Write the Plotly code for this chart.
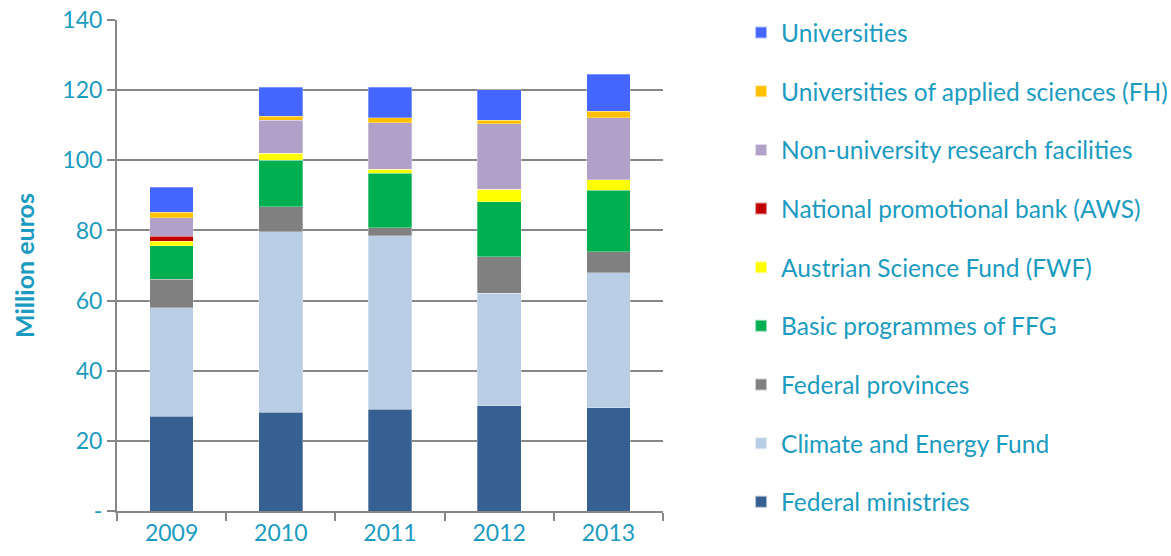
import plotly.graph_objects as go

years = ["2009", "2010", "2011", "2012", "2013"]

federal_ministries = [27.0, 28.2, 29.0, 30.0, 29.5]
climate_energy_fund = [31.0, 51.5, 49.5, 32.1, 38.4]
federal_provinces = [8.1, 7.1, 2.3, 10.4, 6.1]
basic_programmes_ffg = [9.6, 13.2, 15.5, 15.7, 17.5]
austrian_science_fund = [1.2, 2.0, 1.2, 3.6, 2.9]
national_promotional_bank = [1.5, 0.0, 0.0, 0.0, 0.0]
non_university_research = [5.2, 9.5, 13.2, 18.6, 17.7]
universities_applied = [1.6, 1.1, 1.5, 1.0, 1.9]
universities = [7.1, 8.3, 8.6, 8.8, 10.6]

series = [
    ("Federal ministries", federal_ministries, "#376092"),
    ("Climate and Energy Fund", climate_energy_fund, "#B9CDE5"),
    ("Federal provinces", federal_provinces, "#808080"),
    ("Basic programmes of FFG", basic_programmes_ffg, "#00B050"),
    ("Austrian Science Fund (FWF)", austrian_science_fund, "#FFFF00"),
    ("National promotional bank (AWS)", national_promotional_bank, "#C00000"),
    ("Non-university research facilities", non_university_research, "#B1A0C7"),
    ("Universities of applied sciences (FH)", universities_applied, "#FFC000"),
    ("Universities", universities, "#4466FF"),
]

y_tickvals = [0, 20, 40, 60, 80, 100, 120, 140]
y_ticktext = ["-", "20", "40", "60", "80", "100", "120", "140"]

TEAL = "#1B9BC0"
FONT = "Lato, Open Sans, sans-serif"

fig = go.Figure()
n = len(series)
for i, (name, vals, color) in enumerate(series):
    fig.add_trace(go.Bar(
        x=years, y=vals, name=name, legendgroup=name, legendrank=100 + (n - i),
        marker=dict(color=color, line=dict(color="rgba(255,255,255,0.6)", width=0.5)),
    ))

fig.update_layout(
    barmode="stack",
    bargap=0.6,
    width=1171, height=556,
    margin=dict(l=117, r=508, t=20, b=45, autoexpand=False),
    plot_bgcolor="white", paper_bgcolor="white",
    font=dict(family=FONT, color=TEAL, size=23),
    legend=dict(
        x=1.143, xanchor="left", y=1.020, yanchor="top",
        traceorder="grouped", tracegroupgap=23.8, maxheight=700,
        font=dict(size=24.5, color=TEAL, family=FONT),
        itemsizing="constant",
    ),
    xaxis=dict(
        showgrid=False, showline=True, linecolor="#878787", linewidth=2,
        ticks="outside", tickson="boundaries", ticklen=8, tickcolor="#878787", tickwidth=2,
        tickfont=dict(size=23, color=TEAL), zeroline=False,
    ),
    yaxis=dict(
        range=[0, 140.02], tickvals=y_tickvals, ticktext=y_ticktext,
        showgrid=True, gridcolor="#878787", gridwidth=2,
        showline=True, linecolor="#878787", linewidth=2,
        ticks="outside", ticklen=8, tickcolor="#878787", tickwidth=2,
        tickfont=dict(size=23, color=TEAL), zeroline=False,
        ticklabeloverflow="allow",
        title=dict(text="<b>Million euros</b>", font=dict(size=25, color=TEAL), standoff=21),
    ),
)

fig.write_html("out.html", config={"displayModeBar": False},
               post_script="document.body.style.margin='0';")
